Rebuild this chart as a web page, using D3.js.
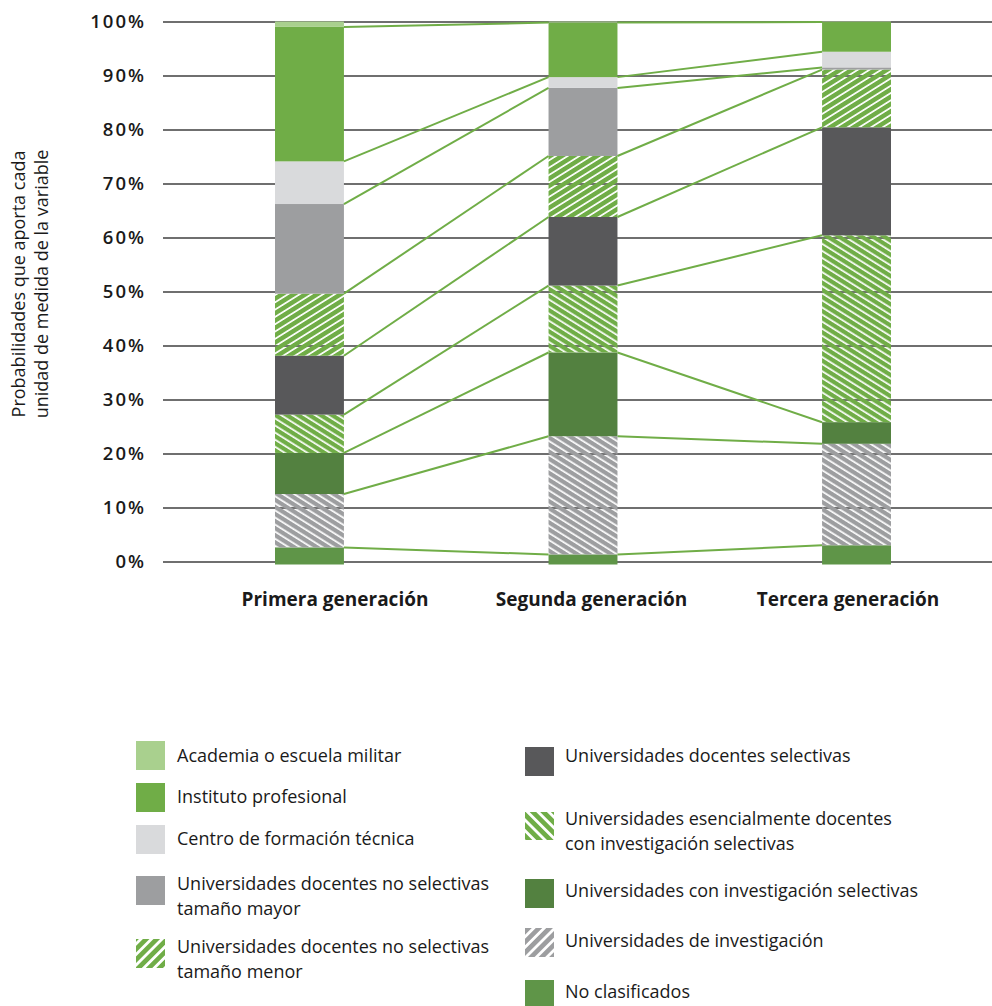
<!DOCTYPE html>
<html>
<head>
<meta charset="utf-8">
<script src="https://cdn.jsdelivr.net/npm/d3@7"></script>
<style>
  body { margin: 0; background: #fff; }
  svg { display: block; font-family: "Open Sans", sans-serif; }
</style>
</head>
<body>
<div id="chart"></div>
<script>
const generations = ["Primera generación", "Segunda generación", "Tercera generación"];

// values in %, one per generation, stacked bottom to top
const noClasificados = [2.6, 1.3, 3.0];
const deInvestigacion = [9.9, 21.9, 18.8];
const conInvSelectivas = [7.6, 15.5, 4.0];
const esencialmenteDocentes = [7.1, 12.4, 34.6];
const docentesSelectivas = [10.9, 12.7, 20.0];
const noSelectivasMenor = [11.5, 11.3, 10.7];
const noSelectivasMayor = [16.6, 12.6, 0.4];
const centroFormacion = [7.9, 2.0, 2.9];
const institutoProfesional = [24.9, 10.1, 5.5];
const academiaMilitar = [1.0, 0.2, 0.1];

const yTicks = [0, 10, 20, 30, 40, 50, 60, 70, 80, 90, 100];

const series = [
  { key: "noClas", name: "No clasificados", values: noClasificados },
  { key: "deInv", name: "Universidades de investigación", values: deInvestigacion },
  { key: "conInv", name: "Universidades con investigación selectivas", values: conInvSelectivas },
  { key: "esenc", name: "Universidades esencialmente docentes con investigación selectivas", values: esencialmenteDocentes },
  { key: "docSel", name: "Universidades docentes selectivas", values: docentesSelectivas },
  { key: "menor", name: "Universidades docentes no selectivas tamaño menor", values: noSelectivasMenor },
  { key: "mayor", name: "Universidades docentes no selectivas tamaño mayor", values: noSelectivasMayor },
  { key: "centro", name: "Centro de formación técnica", values: centroFormacion },
  { key: "inst", name: "Instituto profesional", values: institutoProfesional },
  { key: "acad", name: "Academia o escuela militar", values: academiaMilitar },
];

const green = "#70ad47";
const fills = {
  noClas: "#5f9548",
  deInv: "url(#hatchGrayBack)",
  conInv: "#538140",
  esenc: "url(#hatchGreenBack)",
  docSel: "#58585a",
  menor: "url(#hatchGreenFwd)",
  mayor: "#9d9ea0",
  centro: "#d9dadc",
  inst: green,
  acad: "#a9d08e",
};
const legendFills = Object.assign({}, fills, {
  deInv: "url(#legGrayFwd)",
  esenc: "url(#legGreenBack)",
  menor: "url(#legGreenFwd)",
});

// legend layout: swatch top/height, text lines and first baseline
const legendLeft = [
  { key: "acad", sy: 741, sh: 29, lines: ["Academia o escuela militar"], ty: 762 },
  { key: "inst", sy: 783, sh: 29, lines: ["Instituto profesional"], ty: 803 },
  { key: "centro", sy: 825, sh: 29, lines: ["Centro de formación técnica"], ty: 845 },
  { key: "mayor", sy: 876, sh: 29, lines: ["Universidades docentes no selectivas", "tamaño mayor"], ty: 890 },
  { key: "menor", sy: 939, sh: 29, lines: ["Universidades docentes no selectivas", "tamaño menor"], ty: 953 },
];
const legendRight = [
  { key: "docSel", sy: 747, sh: 29, lines: ["Universidades docentes selectivas"], ty: 762 },
  { key: "esenc", sy: 812, sh: 28, lines: ["Universidades esencialmente docentes", "con investigación selectivas"], ty: 825 },
  { key: "conInv", sy: 879, sh: 29, lines: ["Universidades con investigación selectivas"], ty: 897 },
  { key: "deInv", sy: 928, sh: 29, lines: ["Universidades de investigación"], ty: 947 },
  { key: "noClas", sy: 980, sh: 29, lines: ["No clasificados"], ty: 998 },
];

const W = 992, H = 1006;
const svg = d3.select("#chart").append("svg").attr("width", W).attr("height", H);

// hatch patterns: coloured stripes, transparent gaps so gridlines show through
const defs = svg.append("defs");
function hatch(id, color, angle, period, gap) {
  const p = defs.append("pattern")
    .attr("id", id)
    .attr("patternUnits", "userSpaceOnUse")
    .attr("width", 10)
    .attr("height", period)
    .attr("patternTransform", "rotate(" + angle + ")");
  p.append("rect").attr("x", 0).attr("y", 0).attr("width", 10).attr("height", period - gap).attr("fill", color);
}
hatch("hatchGreenFwd", green, -32, 6.2, 1.7);
hatch("hatchGreenBack", green, 32, 6.0, 1.7);
hatch("hatchGrayBack", "#9d9ea0", 32, 6.0, 1.7);
hatch("legGreenFwd", green, -45, 7.5, 2.8);
hatch("legGreenBack", green, 45, 7.5, 2.8);
hatch("legGrayFwd", "#9d9ea0", -45, 7.5, 2.8);

const gridLeft = 163, gridRight = 992;
const y = d3.scaleLinear().domain([0, 100]).range([561.5, 21.5]);
const x = d3.scaleBand().domain(generations).range([275, 891]).paddingInner(0.748).paddingOuter(0);
const xLabel = d3.scalePoint().domain(generations).range([335, 848]);

// gridlines + tick labels
const yAxis = svg.append("g")
  .attr("transform", "translate(" + gridLeft + ",0)")
  .call(d3.axisLeft(y).tickValues(yTicks).tickFormat((d) => d + "%")
    .tickSize(-(gridRight - gridLeft)).tickPadding(17));
yAxis.select(".domain").remove();
yAxis.selectAll(".tick line").attr("stroke", "#6f6f6f").attr("stroke-width", 2);
yAxis.selectAll(".tick text")
  .attr("fill", "#1a1a1a")
  .style("font-size", "18.5px")
  .style("font-weight", 600)
  .style("letter-spacing", "2px")
  .style("font-family", "'Open Sans', sans-serif");

// axis title
const title = svg.append("text")
  .attr("transform", "translate(25,284) rotate(-90)")
  .attr("text-anchor", "middle")
  .attr("fill", "#1a1a1a")
  .style("font-size", "18px");
title.append("tspan").attr("x", 0).attr("dy", 0).text("Probabilidades que aporta cada");
title.append("tspan").attr("x", 0).attr("dy", 23).text("unidad de medida de la variable");

// stacked data
const table = generations.map((g, i) => {
  const row = { gen: g };
  series.forEach((s) => (row[s.key] = s.values[i]));
  return row;
});
const stacked = d3.stack().keys(series.map((s) => s.key))(table);

const layers = svg.append("g").selectAll("g")
  .data(stacked)
  .join("g")
  .attr("fill", (d) => fills[d.key]);

layers.selectAll("rect")
  .data((d) => d)
  .join("rect")
  .attr("x", (d) => x(d.data.gen))
  .attr("width", x.bandwidth())
  .attr("y", (d) => y(d[1]))
  .attr("height", (d) => y(d[0]) - y(d[1]) + (d[0] === 0 ? 3 : 0));

// connecting lines between bars at every boundary
const links = [];
stacked.slice(0, stacked.length - 1).forEach((layer) => {
  for (let i = 0; i < generations.length - 1; i++) {
    links.push({ a: generations[i], b: generations[i + 1], va: layer[i][1], vb: layer[i + 1][1] });
  }
});
svg.append("g").selectAll("line")
  .data(links)
  .join("line")
  .attr("x1", (d) => x(d.a) + x.bandwidth())
  .attr("x2", (d) => x(d.b))
  .attr("y1", (d) => y(d.va))
  .attr("y2", (d) => y(d.vb))
  .attr("stroke", green)
  .attr("stroke-width", 2);

// category labels
svg.append("g").selectAll("text")
  .data(generations)
  .join("text")
  .attr("x", (d) => xLabel(d))
  .attr("y", 606)
  .attr("text-anchor", "middle")
  .attr("fill", "#1a1a1a")
  .style("font-size", "19px")
  .style("font-weight", 700)
  .text((d) => d);

// legend
function drawLegend(items, sx, tx) {
  const g = svg.append("g").selectAll("g").data(items).join("g");
  g.append("rect")
    .attr("x", sx)
    .attr("y", (d) => d.sy)
    .attr("width", 29)
    .attr("height", (d) => d.sh)
    .attr("fill", (d) => legendFills[d.key]);
  const t = g.append("text")
    .attr("fill", "#1a1a1a")
    .style("font-size", "18px")
    .style("font-weight", 500);
  t.selectAll("tspan")
    .data((d) => d.lines.map((l, i) => ({ l, y: d.ty + i * 25 })))
    .join("tspan")
    .attr("x", tx)
    .attr("y", (d) => d.y)
    .text((d) => d.l);
}
drawLegend(legendLeft, 136, 177);
drawLegend(legendRight, 525, 565);
</script>
</body>
</html>
